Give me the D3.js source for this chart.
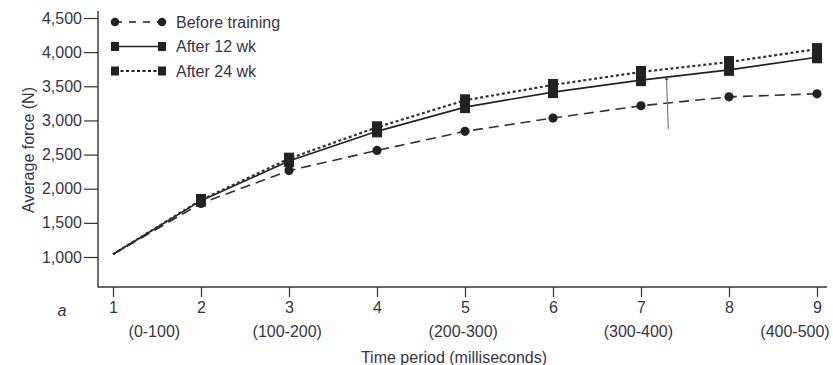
<!DOCTYPE html>
<html>
<head>
<meta charset="utf-8">
<script src="https://cdnjs.cloudflare.com/ajax/libs/d3/7.8.5/d3.min.js"></script>
<style>
  body { margin: 0; background: #fff; }
  svg { display: block; }
  text { font-family: "Liberation Sans", Arial, sans-serif; fill: #353545; }
  .tick text { font-size: 16px; }
</style>
</head>
<body>
<div class="main"></div>
<script>
var periods = [1, 2, 3, 4, 5, 6, 7, 8, 9];
var before = [1040, 1785, 2265, 2560, 2840, 3035, 3215, 3345, 3390];
var after12 = [1040, 1825, 2405, 2840, 3195, 3415, 3590, 3740, 3925];
var after24 = [1040, 1835, 2440, 2900, 3295, 3520, 3710, 3855, 4045];
var yTicks = [1000, 1500, 2000, 2500, 3000, 3500, 4000, 4500];
var rangeLabels = ['(0-100)', '(100-200)', '(200-300)', '(300-400)', '(400-500)'];
var rangeAt = [1.47, 2.98, 4.98, 6.97, 8.75];
var arrowFrom = { p: 7.31, v: 2870 }, arrowTo = { p: 7.29, v: 3640 };

var W = 833, H = 365;
var x = d3.scaleLinear().domain([1, 9]).range([113, 817]);
var y = d3.scaleLinear().domain([1000, 4500]).range([257, 18]);
var axisX = 98, axisY = 287;

var svg = d3.select('.main').append('svg').attr('width', W).attr('height', H);

// y axis
var ya = svg.append('g').attr('transform', 'translate(' + axisX + ',0)')
  .call(d3.axisLeft(y).tickValues(yTicks).tickSize(14).tickPadding(2).tickFormat(d3.format(',')));
ya.select('.domain').remove();
ya.selectAll('.tick line').attr('stroke', '#333').attr('stroke-width', 1.2);
svg.append('line').attr('x1', axisX).attr('x2', axisX).attr('y1', 11).attr('y2', axisY + 0.5)
  .attr('stroke', '#333').attr('stroke-width', 1.4);

// x axis
var xa = svg.append('g').attr('transform', 'translate(0,' + axisY + ')')
  .call(d3.axisBottom(x).tickValues(periods).tickSize(10).tickPadding(5).tickFormat(d3.format('d')));
xa.select('.domain').remove();
xa.selectAll('.tick line').attr('stroke', '#333').attr('stroke-width', 1.2);
svg.append('line').attr('x1', axisX).attr('x2', 827).attr('y1', axisY).attr('y2', axisY)
  .attr('stroke', '#333').attr('stroke-width', 1.4);

svg.selectAll('text.range').data(rangeLabels).enter().append('text')
  .attr('class', 'range')
  .attr('x', function(d, i) { return x(rangeAt[i]); })
  .attr('y', 337).attr('text-anchor', 'middle').style('font-size', '16px')
  .text(function(d) { return d; });

svg.append('text').attr('x', 62).attr('y', 316).attr('text-anchor', 'middle')
  .style('font-size', '16px').style('font-style', 'italic').text('a');

svg.append('text').attr('x', 454).attr('y', 363).attr('text-anchor', 'middle')
  .style('font-size', '16px').text('Time period (milliseconds)');

svg.append('text').attr('transform', 'translate(34,150) rotate(-90)')
  .attr('text-anchor', 'middle').style('font-size', '16px').text('Average force (N)');

// lines
var line = d3.line().x(function(d, i) { return x(periods[i]); }).y(function(d) { return y(d); });

svg.append('path').datum(before).attr('d', line).attr('fill', 'none')
  .attr('stroke', '#333').attr('stroke-width', 1.6).attr('stroke-dasharray', '10,6');
svg.append('path').datum(after12).attr('d', line).attr('fill', 'none')
  .attr('stroke', '#222').attr('stroke-width', 1.6);
svg.append('path').datum(after24).attr('d', line).attr('fill', 'none')
  .attr('stroke', '#333').attr('stroke-width', 2.2).attr('stroke-dasharray', '3,2.5');

// arrow
svg.append('defs').append('marker').attr('id', 'ah').attr('viewBox', '0 0 10 10')
  .attr('refX', 9).attr('refY', 5).attr('markerWidth', 4).attr('markerHeight', 4).attr('orient', 'auto')
  .append('path').attr('d', 'M0,0L10,5L0,10z').attr('fill', '#555');
svg.append('line')
  .attr('x1', x(arrowFrom.p)).attr('y1', y(arrowFrom.v))
  .attr('x2', x(arrowTo.p)).attr('y2', y(arrowTo.v))
  .attr('stroke', '#666').attr('stroke-width', 1).attr('marker-end', 'url(#ah)');

// markers
svg.selectAll('circle.before').data(before.slice(1)).enter().append('circle')
  .attr('class', 'before')
  .attr('cx', function(d, i) { return x(periods[i + 1]); })
  .attr('cy', function(d) { return y(d); })
  .attr('r', 4.6).attr('fill', '#222');

function squares(data, cls) {
  svg.selectAll('rect.' + cls).data(data.slice(1)).enter().append('rect')
    .attr('class', cls)
    .attr('x', function(d, i) { return x(periods[i + 1]) - 5; })
    .attr('y', function(d) { return y(d) - 6; })
    .attr('width', 10).attr('height', 12).attr('fill', '#222');
}
squares(after12, 'a12');
squares(after24, 'a24');

// legend
var legend = [
  { name: 'Before training', dash: '7,7', w: 1.6, mark: 'circle' },
  { name: 'After 12 wk', dash: null, w: 1.6, mark: 'rect' },
  { name: 'After 24 wk', dash: '3,2.5', w: 2, mark: 'rect' }
];
var lg = svg.selectAll('g.leg').data(legend).enter().append('g')
  .attr('class', 'leg')
  .attr('transform', function(d, i) { return 'translate(0,' + (22 + i * 24.5) + ')'; });
lg.append('line').attr('x1', 115).attr('x2', 162).attr('y1', 0).attr('y2', 0)
  .attr('stroke', '#222').attr('stroke-width', function(d) { return d.w; })
  .attr('stroke-dasharray', function(d) { return d.dash; });
lg.each(function(d) {
  var g = d3.select(this);
  [115, 162].forEach(function(cx) {
    if (d.mark == 'circle') g.append('circle').attr('cx', cx).attr('cy', 0).attr('r', 4.3).attr('fill', '#222');
    else g.append('rect').attr('x', cx - 4).attr('y', -4.5).attr('width', 8).attr('height', 9).attr('fill', '#222');
  });
});
lg.append('text').attr('x', 176).attr('y', 5.5).style('font-size', '16px').text(function(d) { return d.name; });
</script>
</body>
</html>
